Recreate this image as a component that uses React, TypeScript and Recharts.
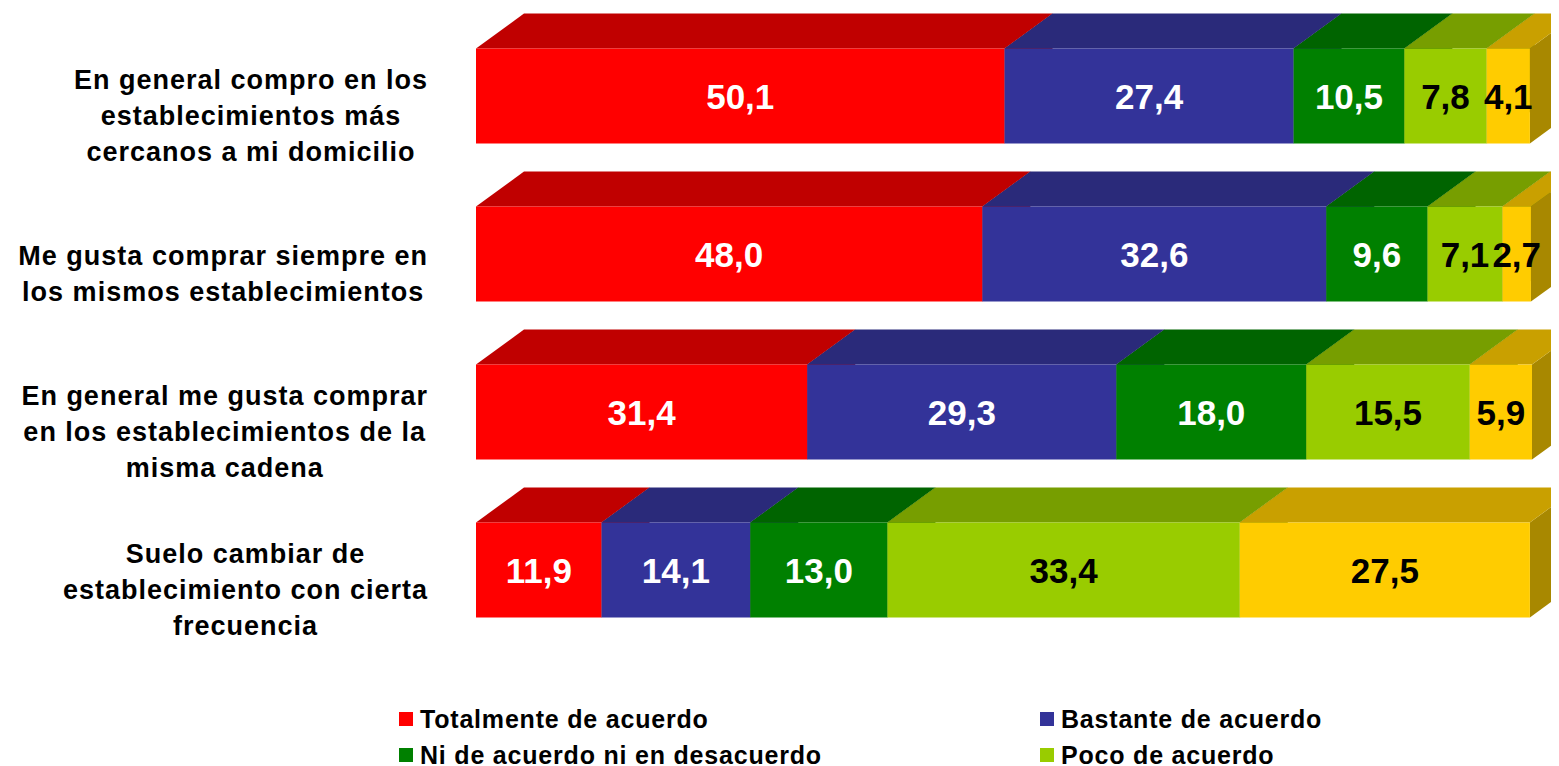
import { BarChart, Bar, XAxis, YAxis, Legend, LabelList } from "recharts";

const categories = [
  "En general compro en los establecimientos más cercanos a mi domicilio",
  "Me gusta comprar siempre en los mismos establecimientos",
  "En general me gusta comprar en los establecimientos de la misma cadena",
  "Suelo cambiar de establecimiento con cierta frecuencia",
];

// how each category label wraps in the original
const categoryLines = [
  ["En general compro en los", "establecimientos más", "cercanos a mi domicilio"],
  ["Me gusta comprar siempre en", "los mismos establecimientos"],
  ["En general me gusta comprar", "en los establecimientos de la", "misma cadena"],
  ["Suelo cambiar de", "establecimiento con cierta", "frecuencia"],
];

const totalmente = [50.1, 48.0, 31.4, 11.9];
const bastante = [27.4, 32.6, 29.3, 14.1];
const niNi = [10.5, 9.6, 18.0, 13.0];
const poco = [7.8, 7.1, 15.5, 33.4];
const nada = [4.1, 2.7, 5.9, 27.5];

const seriesKeys = ["totalmente", "bastante", "niNi", "poco", "nada"];
const seriesNames = [
  "Totalmente de acuerdo",
  "Bastante de acuerdo",
  "Ni de acuerdo ni en desacuerdo",
  "Poco de acuerdo",
  "Nada de acuerdo",
];

const frontColors = ["#FF0000", "#333399", "#008000", "#99CC00", "#FFCC00"];
const topColors = ["#C00000", "#2A2A7A", "#006400", "#779E00", "#C9A000"];
const sideColors = ["#A00000", "#22225F", "#004D00", "#5E7D00", "#A88800"];
const labelColors = ["#FFFFFF", "#FFFFFF", "#FFFFFF", "#000000", "#000000"];

const data = categories.map((name, i) => ({
  name,
  totalmente: totalmente[i],
  bastante: bastante[i],
  niNi: niNi[i],
  poco: poco[i],
  nada: nada[i],
}));

const FONT = "'Liberation Sans', Arial, sans-serif";
const DX = 48;
const DY = 35;

let ctx: CanvasRenderingContext2D | null = null;
const measure = (s: string, size: number, ls: number) => {
  if (!ctx) ctx = document.createElement("canvas").getContext("2d");
  if (!ctx) return s.length * size * 0.55;
  ctx.font = `bold ${size}px ${FONT}`;
  return ctx.measureText(s).width + s.length * ls;
};

const makeBox = (i: number) => (props: any) => {
  const { x, y, width, height } = props;
  if (!width || width <= 0) return <g />;
  const r = x + width;
  const b = y + height;
  return (
    <g>
      <polygon
        points={`${r},${y} ${r + DX},${y - DY} ${r + DX},${b - DY} ${r},${b}`}
        fill={sideColors[i]}
      />
      <polygon
        points={`${x},${y} ${x + DX},${y - DY} ${r + DX},${y - DY} ${r},${y}`}
        fill={topColors[i]}
      />
      <rect x={x} y={y} width={width} height={height} fill={frontColors[i]} />
    </g>
  );
};

const makeLabel = (i: number) => (props: any) => {
  const { x, y, width, height, value } = props;
  if (value == null) return null;
  return (
    <text
      x={x + width / 2}
      y={y + height / 2}
      textAnchor="middle"
      dominantBaseline="central"
      fill={labelColors[i]}
      fontFamily={FONT}
      fontWeight="bold"
      fontSize={35}
    >
      {Number(value).toFixed(1).replace(".", ",")}
    </text>
  );
};

const CategoryTick = (props: any) => {
  const { y, payload } = props;
  const idx = categories.indexOf(payload.value);
  const lines = categoryLines[idx] || [payload.value];
  const size = 27;
  const ls = 1;
  const maxW = Math.max(...lines.map((l) => measure(l, size, ls)));
  const cx = 420 - maxW / 2;
  const lh = 36;
  const cy = y + 20;
  return (
    <g>
      {lines.map((l, k) => (
        <text
          key={k}
          x={cx}
          y={cy - ((lines.length - 1) * lh) / 2 + k * lh}
          textAnchor="middle"
          dominantBaseline="central"
          fontFamily={FONT}
          fontWeight="bold"
          fontSize={size}
          letterSpacing={ls}
          fill="#000"
        >
          {l}
        </text>
      ))}
    </g>
  );
};

// legend laid out in two columns, in series order
const renderLegend = () => (
  <div
    style={{
      display: "grid",
      gridTemplateColumns: "641px 641px",
      gridAutoRows: "36px",
      alignItems: "center",
      fontFamily: FONT,
      fontWeight: "bold",
      fontSize: 25,
      letterSpacing: 0.8,
      color: "#000",
    }}
  >
    {seriesNames.map((name, k) => (
      <div key={k} style={{ display: "flex", alignItems: "center" }}>
        <span
          style={{
            display: "inline-block",
            width: 14,
            height: 14,
            background: frontColors[k],
            marginRight: 7,
          }}
        />
        <span>{name}</span>
      </div>
    ))}
  </div>
);

export default function App() {
  return (
    <div style={{ width: 1551, height: 758, overflow: "hidden" }}>
      <BarChart
        width={1551}
        height={758}
        data={data}
        layout="vertical"
        margin={{ top: 8.5, right: 27, bottom: 117.5, left: 0 }}
      >
        <XAxis type="number" domain={[0, 100]} hide />
        <YAxis
          type="category"
          dataKey="name"
          width={468}
          axisLine={false}
          tickLine={false}
          tick={(p: any) => <CategoryTick {...p} />}
        />
        <Legend
          layout="vertical"
          align="center"
          verticalAlign="middle"
          wrapperStyle={{ top: 693, left: 391, width: 1282 }}
          content={renderLegend}
        />
        {seriesKeys.map((key, i) => (
          <Bar
            key={key}
            dataKey={key}
            name={seriesNames[i]}
            stackId="a"
            barSize={95}
            fill={frontColors[i]}
            shape={makeBox(i)}
            isAnimationActive={false}
          >
            <LabelList dataKey={key} content={makeLabel(i)} />
          </Bar>
        ))}
      </BarChart>
    </div>
  );
}
